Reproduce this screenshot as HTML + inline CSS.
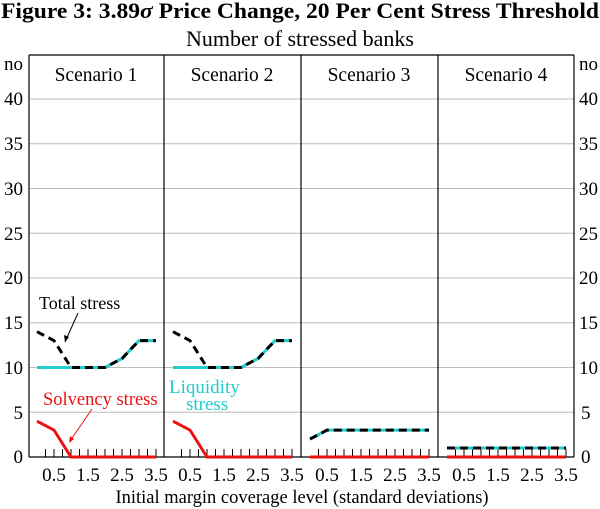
<!DOCTYPE html>
<html><head><style>body{margin:0;background:#fff}svg{display:block}</style></head><body>
<svg width="600" height="509" xmlns="http://www.w3.org/2000/svg" font-family="Liberation Serif, serif">
<text x="300" y="18" font-size="22" font-weight="bold" text-anchor="middle" textLength="598" lengthAdjust="spacingAndGlyphs">Figure 3: 3.89<tspan font-style="italic">σ</tspan> Price Change, 20 Per Cent Stress Threshold</text>
<text x="300" y="46" font-size="22" text-anchor="middle">Number of stressed banks</text>
<g stroke="#bbb" stroke-width="1">
<line x1="29" x2="574" y1="99" y2="99"/><line x1="29" x2="574" y1="143.75" y2="143.75"/>
<line x1="29" x2="574" y1="188.5" y2="188.5"/><line x1="29" x2="574" y1="233.25" y2="233.25"/>
<line x1="29" x2="574" y1="278" y2="278"/><line x1="29" x2="574" y1="322.75" y2="322.75"/>
<line x1="29" x2="574" y1="367.5" y2="367.5"/><line x1="29" x2="574" y1="412.25" y2="412.25"/>
</g>
<g font-size="19" text-anchor="end">
<text x="23" y="70">no</text><text x="23" y="105">40</text><text x="23" y="150">35</text><text x="23" y="195">30</text><text x="23" y="240">25</text><text x="23" y="284">20</text><text x="23" y="329">15</text><text x="23" y="374">10</text><text x="23" y="419">5</text><text x="23" y="463">0</text>
</g>
<g font-size="19" text-anchor="start">
<text x="579" y="70">no</text><text x="579" y="105">40</text><text x="579" y="150">35</text><text x="579" y="195">30</text><text x="579" y="240">25</text><text x="579" y="284">20</text><text x="579" y="329">15</text><text x="579" y="374">10</text><text x="581" y="419">5</text><text x="581" y="463">0</text>
</g>
<g stroke="#000" stroke-width="1.2" fill="none">
<line x1="29" x2="574" y1="55" y2="55"/>
<line x1="29" x2="29" y1="55" y2="457"/><line x1="164" x2="164" y1="55" y2="457"/>
<line x1="301" x2="301" y1="55" y2="457"/><line x1="438" x2="438" y1="55" y2="457"/>
<line x1="574" x2="574" y1="55" y2="457"/>
<line x1="29" x2="574" y1="457" y2="457"/>
</g>
<g font-size="19.5" text-anchor="middle">
<text x="96" y="81">Scenario 1</text><text x="232" y="81">Scenario 2</text><text x="369" y="81">Scenario 3</text><text x="506" y="81">Scenario 4</text>
</g>
<g stroke="#000" stroke-width="1">
<path id="tk" d="M45.5 457v-8M54 457v-8M62.5 457v-8M71 457v-8M79.5 457v-8M88 457v-8M96.5 457v-8M105 457v-8M113.5 457v-8M122 457v-8M130.5 457v-8M139 457v-8M147.5 457v-8M156 457v-8"/>
<use href="#tk" x="136"/><use href="#tk" x="273"/><use href="#tk" x="410"/>
</g>
<g font-size="19" text-anchor="middle">
<g id="xl"><text x="54" y="481">0.5</text><text x="88" y="481">1.5</text><text x="122" y="481">2.5</text><text x="156" y="481">3.5</text></g>
<use href="#xl" x="136"/><use href="#xl" x="273"/><use href="#xl" x="410"/>
</g>
<text x="302" y="503" font-size="18.5" text-anchor="middle">Initial margin coverage level (standard deviations)</text>
<g fill="none" stroke-width="3">
<polyline stroke="#ee1111" points="37,421.2 54,430.1 71,457 156,457"/>
<polyline stroke="#22cccc" points="37,367.5 105,367.5 122,358.5 139,340.6 156,340.6"/>
<polyline stroke="#000" stroke-dasharray="8,5" points="37,331.7 54,340.6 71,367.5 105,367.5 122,358.5 139,340.6 156,340.6"/>
<polyline stroke="#ee1111" points="173,421.2 190,430.1 207,457 292,457"/>
<polyline stroke="#22cccc" points="173,367.5 241,367.5 258,358.5 275,340.6 292,340.6"/>
<polyline stroke="#000" stroke-dasharray="8,5" points="173,331.7 190,340.6 207,367.5 241,367.5 258,358.5 275,340.6 292,340.6"/>
<polyline stroke="#ee1111" points="310,457 429,457"/>
<polyline stroke="#22cccc" points="310,439.1 327,430.1 429,430.1"/>
<polyline stroke="#000" stroke-dasharray="8,5" points="310,439.1 327,430.1 429,430.1"/>
<polyline stroke="#ee1111" points="447,457 566,457"/>
<polyline stroke="#22cccc" points="447,448 566,448"/>
<polyline stroke="#000" stroke-dasharray="8,5" points="447,448 566,448"/>
</g>
<text x="39" y="309" font-size="18">Total stress</text>
<line x1="78" y1="313" x2="65" y2="342" stroke="#000" stroke-width="1"/>
<path d="M65 342l-1-7 5 2z" fill="#000"/>
<text x="43" y="405" font-size="18.5" fill="#ee1111">Solvency stress</text>
<line x1="92" y1="409" x2="70" y2="441" stroke="#ee1111" stroke-width="1"/>
<path d="M69 443l1-7 4 3z" fill="#ee1111"/>
<text x="169" y="393" font-size="19" fill="#22cccc">Liquidity</text>
<text x="186" y="410" font-size="19" fill="#22cccc">stress</text>
</svg>
</body></html>
